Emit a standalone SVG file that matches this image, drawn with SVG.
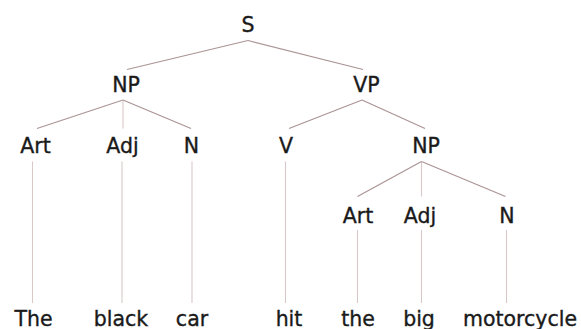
<svg xmlns="http://www.w3.org/2000/svg" width="581" height="329" viewBox="0 0 581 329">
<style>
text{font-family:"DejaVu Sans","Liberation Sans",sans-serif;font-size:20.5px;fill:#1a1a1a;stroke:#1a1a1a;stroke-width:0.35;text-anchor:middle}
.d{stroke:#ab9494;stroke-width:1.2;fill:none}
.v{stroke:#d8c8c8;stroke-width:1.1;fill:none}
</style>
<rect width="581" height="329" fill="#ffffff"/>
<g id="connectors">
<line class="d" x1="248" y1="40.5" x2="127" y2="69.5"/>
<line class="d" x1="248" y1="40.5" x2="363" y2="69.5"/>
<line class="d" x1="123" y1="100" x2="37" y2="128.5"/>
<line class="v" x1="123" y1="100" x2="123" y2="128.5"/>
<line class="d" x1="123" y1="100" x2="191" y2="128.5"/>
<line class="d" x1="362" y1="100" x2="289" y2="128.5"/>
<line class="d" x1="362" y1="100" x2="425" y2="128.5"/>
<line class="d" x1="421.5" y1="161.5" x2="357.5" y2="196.5"/>
<line class="v" x1="421.5" y1="161.5" x2="421.5" y2="196.5"/>
<line class="d" x1="421.5" y1="161.5" x2="505.5" y2="196.5"/>
<line class="v" x1="32.5" y1="161.5" x2="32.5" y2="303"/>
<line class="v" x1="122" y1="161.5" x2="122" y2="303"/>
<line class="v" x1="192" y1="161.5" x2="192" y2="303"/>
<line class="v" x1="285.5" y1="161.5" x2="285.5" y2="303"/>
<line class="v" x1="357.5" y1="230" x2="357.5" y2="303"/>
<line class="v" x1="421.5" y1="230" x2="421.5" y2="303"/>
<line class="v" x1="506.5" y1="230" x2="506.5" y2="303"/>
</g>
<g id="S"><text x="248" y="32">S</text></g>
<g id="NP1"><text x="126" y="92">NP</text></g>
<g id="VP"><text x="366.5" y="92">VP</text></g>
<g id="Art1"><text x="35.5" y="153">Art</text></g>
<g id="Adj1"><text x="122.5" y="153">Adj</text></g>
<g id="N1"><text x="191.5" y="153">N</text></g>
<g id="V"><text x="286" y="153">V</text></g>
<g id="NP2"><text x="426" y="153">NP</text></g>
<g id="Art2"><text x="358" y="223">Art</text></g>
<g id="Adj2"><text x="420" y="223">Adj</text></g>
<g id="N2"><text x="507" y="223">N</text></g>
<g id="w-The"><text x="33.5" y="325.5">The</text></g>
<g id="w-black"><text x="121" y="325.5">black</text></g>
<g id="w-car"><text x="192" y="325.5">car</text></g>
<g id="w-hit"><text x="289" y="325.5">hit</text></g>
<g id="w-the"><text x="358" y="325.5">the</text></g>
<g id="w-big"><text x="419" y="325.5">big</text></g>
<g id="w-motorcycle"><text x="520" y="325.5">motorcycle</text></g>
</svg>
